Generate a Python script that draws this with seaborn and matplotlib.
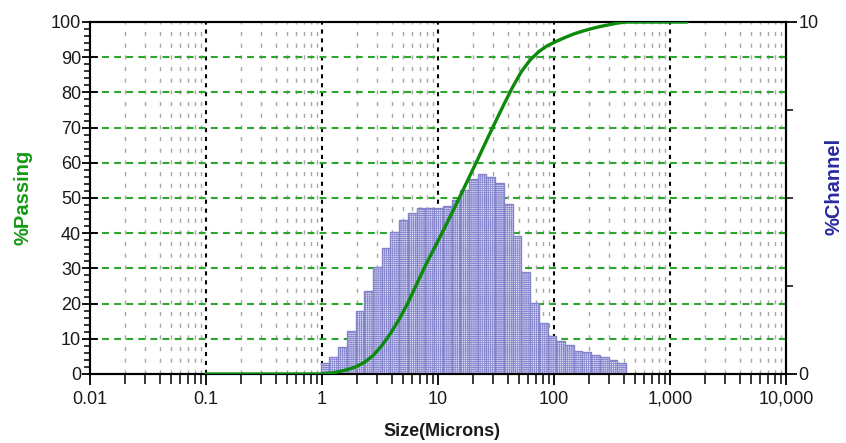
import numpy as np
import pandas as pd
import matplotlib
matplotlib.use("Agg")
import matplotlib.pyplot as plt
import seaborn as sns
from matplotlib.ticker import LogLocator, MultipleLocator, NullFormatter, FixedLocator

# ---------------- data ----------------
channel_edges_um = [0.972, 1.156, 1.375, 1.635, 1.945, 2.312, 2.75, 3.27, 3.89, 4.62,
                    5.5, 6.54, 7.78, 9.25, 11.0, 13.08, 15.56, 18.5, 22.0, 26.16,
                    31.11, 37.0, 44.0, 52.33, 62.23, 74.0, 88.0, 104.7, 124.5, 148.0,
                    176.0, 209.3, 248.9, 296.0, 352.0, 418.6]
pct_channel = [0.30, 0.47, 0.76, 1.21, 1.78, 2.37, 3.05, 3.57, 4.04, 4.38,
               4.56, 4.71, 4.71, 4.71, 4.78, 4.94, 5.23, 5.54, 5.68, 5.59,
               5.44, 4.83, 3.93, 2.89, 2.01, 1.44, 1.09, 0.94, 0.82, 0.66,
               0.62, 0.55, 0.47, 0.41, 0.31]

curve_size_um = [0.1, 0.5, 0.972, 1.156, 1.375, 1.635, 1.945, 2.312, 2.75, 3.27,
                 3.89, 4.62, 5.5, 6.54, 7.78, 9.25, 11.0, 13.08, 15.56, 18.5,
                 22.0, 26.16, 31.11, 37.0, 44.0, 52.33, 62.23, 74.0, 88.0, 104.7,
                 124.5, 148.0, 176.0, 209.3, 248.9, 296.0, 352.0, 418.6, 1400.0]
curve_pct_passing = [0.0, 0.0, 0.0, 0.2, 0.6, 1.2, 2.0, 3.3, 5.2, 8.0,
                     11.5, 15.5, 20.2, 25.5, 30.8, 35.6, 40.5, 45.5, 50.6, 55.8,
                     61.0, 66.3, 71.5, 76.6, 81.5, 85.9, 89.2, 91.6, 93.3, 94.5,
                     95.6, 96.6, 97.4, 98.1, 98.7, 99.2, 99.7, 100.0, 100.0]

xtick_values = [0.01, 0.1, 1, 10, 100, 1000, 10000]
xtick_labels = ["0.01", "0.1", "1", "10", "100", "1,000", "10,000"]
ytick_left = list(range(0, 101, 10))
ytick_right = [0, 10]
ytick_right_labels = ["0", "10"]

# ---------------- style ----------------
sns.set_theme(style="white")
plt.rcParams['font.family'] = ['Liberation Sans', 'DejaVu Sans']
plt.rcParams['hatch.linewidth'] = 0.5

GREEN_GRID = '#2ea62e'
GREEN_LINE = '#0b8a0b'
BAR_EDGE = '#8484cc'
BAR_FACE = '#dedef6'
TXT = '#1a1a1a'

fig = plt.figure(figsize=(8.46, 4.43), dpi=100)
rect = [90 / 846, 1 - 374 / 443, 696 / 846, 352 / 443]
ax = fig.add_axes(rect)
ax.set_xscale('log')

ax_bar = ax.twinx()
ax_curve = fig.add_axes(rect, sharex=ax, sharey=ax)
ax.set_zorder(0)
ax_bar.set_zorder(1)
ax_curve.set_zorder(2)
ax_bar.patch.set_visible(False)
ax_curve.patch.set_visible(False)

# ---------------- histogram (%Channel, right axis) ----------------
edges = np.array(channel_edges_um)
centers = np.sqrt(edges[:-1] * edges[1:])
hist_df = pd.DataFrame({"size": centers, "pct": pct_channel})
sns.histplot(data=hist_df, x="size", weights="pct", bins=list(np.log10(edges)),
             log_scale=True, ax=ax_bar, stat='count', element='bars', fill=True,
             facecolor=BAR_FACE, edgecolor=BAR_EDGE, linewidth=1.0, alpha=1.0,
             hatch='++++++++')

# ---------------- cumulative curve (%Passing, left axis) ----------------
sns.lineplot(x=curve_size_um, y=curve_pct_passing, ax=ax_curve, color=GREEN_LINE,
             linewidth=2.4, sort=True, estimator=None)

# ---------------- axes configuration ----------------
ax.set_xlim(0.01, 10000)
ax.set_ylim(0, 100)
ax_bar.set_ylim(0, 10)
ax_bar.set_ylabel('')
ax_bar.set_xlabel('')
ax.set_xlabel('')
ax.set_ylabel('')
ax_curve.axis('off')
ax_bar.grid(False)

ax.set_xticks(xtick_values, labels=xtick_labels)
ax.xaxis.set_minor_locator(LogLocator(base=10, subs=np.arange(2, 10), numticks=40))
ax.xaxis.set_minor_formatter(NullFormatter())
ax.set_yticks(ytick_left)
ax.yaxis.set_minor_locator(MultipleLocator(2))
ax.grid(False)
ax.yaxis.grid(True, which='major', color=GREEN_GRID, linestyle=(0, (3.3, 2.5)), linewidth=1.5)
ax.xaxis.grid(True, which='major', color='black', linestyle=(0, (2.0, 2.3)), linewidth=1.5)
ax.xaxis.grid(True, which='minor', color='#a8a8a8', linestyle=(0, (3.0, 5.4)), linewidth=1.0)
glines = ax.get_ygridlines()
glines[0].set_visible(False)
glines[-1].set_visible(False)
xg = ax.get_xgridlines()
xg[0].set_visible(False)
xg[-1].set_visible(False)

for s in list(ax.spines.values()) + list(ax_bar.spines.values()):
    s.set_color('black')
    s.set_linewidth(1.5)

ax.tick_params(axis='y', which='major', direction='inout', length=11, width=1.3,
               labelsize=13, colors='black', labelcolor=TXT, pad=1, left=True, right=False)
ax.tick_params(axis='y', which='minor', direction='out', length=4, width=1.1,
               colors='black', left=True, right=False)
ax.tick_params(axis='x', which='major', direction='out', length=8, width=1.3,
               labelsize=13, colors='black', labelcolor=TXT, pad=4, bottom=True, top=False)
ax.tick_params(axis='x', which='minor', direction='out', length=7, width=1.1,
               colors='black', bottom=True, top=False)

ax_bar.yaxis.set_major_locator(FixedLocator(ytick_right))
ax_bar.set_yticklabels(ytick_right_labels)
ax_bar.yaxis.set_minor_locator(FixedLocator([2.5, 5, 7.5]))
ax_bar.tick_params(axis='y', which='major', direction='out', length=8, width=1.3,
                   labelsize=13, colors='black', labelcolor=TXT, pad=1, right=True, left=False)
ax_bar.tick_params(axis='y', which='minor', direction='out', length=5, width=1.1,
                   colors='black', right=True, left=False)
ax_bar.tick_params(axis='x', which='both', bottom=False, top=False, labelbottom=False)

# ---------------- labels ----------------
fig.text(23 / 846, 1 - 197 / 443, '%Passing', rotation=90, ha='center', va='center',
         color='#159a15', fontsize=14.5, fontweight='bold')
fig.text(834 / 846, 1 - 186 / 443, '%Channel', rotation=90, ha='center', va='center',
         color='#2a2aa0', fontsize=14.5, fontweight='bold')
fig.text(442 / 846, 1 - 431 / 443, 'Size(Microns)', ha='center', va='center',
         color=TXT, fontsize=13, fontweight='bold')

fig.savefig('out.png', dpi=100)
